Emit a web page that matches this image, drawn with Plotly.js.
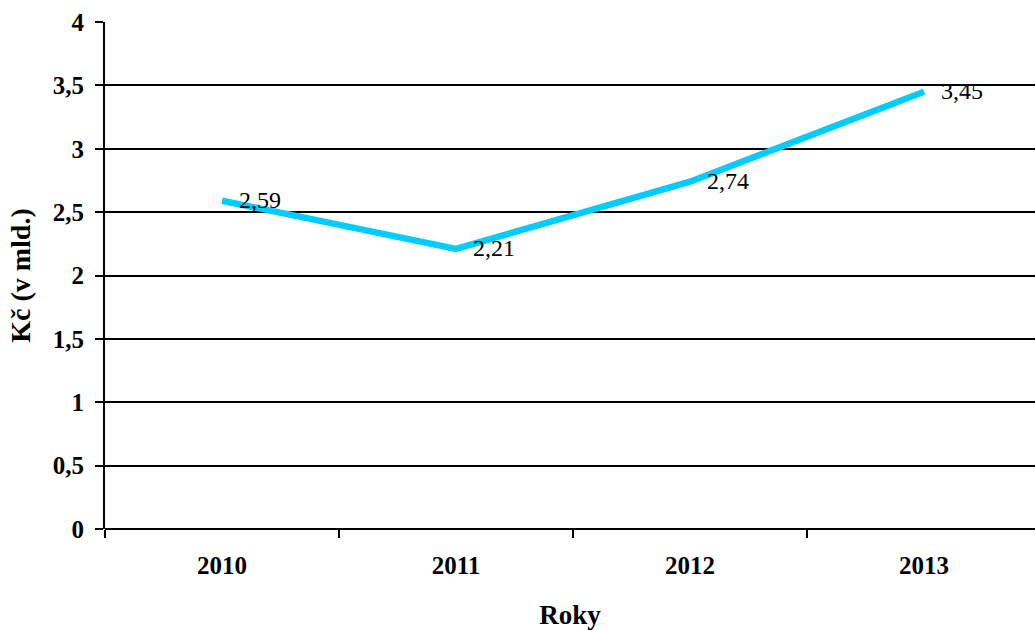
<!DOCTYPE html>
<html>
<head>
<meta charset="utf-8">
<script src="https://cdn.plot.ly/plotly-3.0.1.min.js"></script>
<style>html,body{margin:0;padding:0;background:#fff;}#chart{width:1035px;height:630px;}</style>
</head>
<body>
<div id="chart"></div>
<script>
var years = [2010, 2011, 2012, 2013];
var yearLabels = ['2010', '2011', '2012', '2013'];
var values = [2.59, 2.21, 2.74, 3.45];
var valueLabels = ['2,59', '2,21', '2,74', '3,45'];
var yTicks = [0, 0.5, 1, 1.5, 2, 2.5, 3, 3.5, 4];
var boundaryTicks = [2009.5, 2010.5, 2011.5, 2012.5];

var serif = '"Liberation Serif", "Times New Roman", serif';

var trace = {
  x: years,
  y: values,
  type: 'scatter',
  mode: 'lines',
  line: {color: '#00CCFF', width: 6.5},
  cliponaxis: false,
  hoverinfo: 'none',
  showlegend: false
};

var tickTrace = {
  x: years,
  y: values,
  xaxis: 'x2',
  type: 'scatter',
  mode: 'none',
  hoverinfo: 'none',
  showlegend: false
};

var annotations = years.map(function (yr, i) {
  return {
    x: yr, y: values[i], xref: 'x', yref: 'y',
    text: valueLabels[i],
    showarrow: false,
    xanchor: 'left', yanchor: 'middle',
    xshift: 15, yshift: 1,
    font: {family: serif, size: 24, color: '#000'}
  };
});

var layout = {
  width: 1035,
  height: 630,
  margin: {l: 105, r: 0, t: 22, b: 101},
  paper_bgcolor: '#fff',
  plot_bgcolor: '#fff',
  separators: ', ',
  font: {family: serif, color: '#000'},
  annotations: annotations,
  xaxis: {
    range: [2009.5, 2013.474],
    tickmode: 'array',
    tickvals: years,
    ticktext: yearLabels,
    ticks: 'outside',
    ticklen: 14,
    tickcolor: 'rgba(0,0,0,0)',
    showgrid: false,
    zeroline: false,
    showline: false,
    tickfont: {family: serif, size: 25, weight: 'bold', color: '#000'},
    title: {text: 'Roky', font: {family: serif, size: 27, weight: 'bold', color: '#000'}, standoff: 29}
  },
  xaxis2: {
    overlaying: 'x',
    matches: 'x',
    side: 'bottom',
    anchor: 'y',
    tickmode: 'array',
    tickvals: boundaryTicks,
    ticks: 'outside',
    ticklen: 8,
    tickwidth: 2,
    tickcolor: '#000',
    showticklabels: false,
    showgrid: false,
    zeroline: false,
    showline: false
  },
  yaxis: {
    range: [0, 4],
    tickmode: 'array',
    tickvals: yTicks,
    tickformat: '.1~f',
    ticks: 'outside',
    ticklen: 8,
    tickwidth: 2,
    tickcolor: '#000',
    ticklabelstandoff: 6,
    showgrid: true,
    gridcolor: '#000',
    gridwidth: 2,
    zeroline: true,
    zerolinecolor: '#000',
    zerolinewidth: 2,
    showline: true,
    linecolor: '#000',
    linewidth: 2,
    tickfont: {family: serif, size: 25, weight: 'bold', color: '#000'},
    title: {text: 'Kč (v mld.)', font: {family: serif, size: 28, weight: 'bold', color: '#000'}, standoff: 14}
  }
};

Plotly.newPlot('chart', [trace, tickTrace], layout, {displayModeBar: false, staticPlot: true});
</script>
</body>
</html>
